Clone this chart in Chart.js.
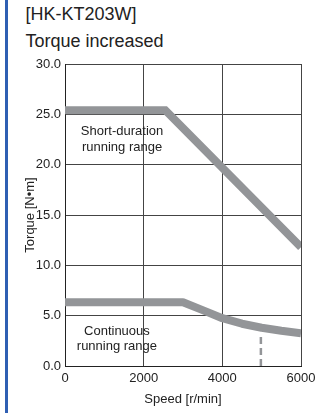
<!DOCTYPE html>
<html>
<head>
<meta charset="utf-8">
<script src="https://cdn.jsdelivr.net/npm/chart.js@4/dist/chart.umd.min.js"></script>
<style>
  html, body { margin: 0; padding: 0; background: #fff; }
  body { width: 336px; height: 415px; position: relative; overflow: hidden; font-family: "Liberation Sans", Arial, sans-serif; }
  .bar { position: absolute; left: 5px; top: 0; width: 2.5px; height: 413px; background: #2f5fb3; }
  .title { position: absolute; left: 25.5px; top: 1px; font-size: 18px; line-height: 27px; color: #222; }
  #chart { position: absolute; left: 0; top: 0; }
</style>
</head>
<body>
<div class="bar"></div>
<div class="title">[HK-KT203W]<br>Torque increased</div>
<canvas id="chart" width="336" height="415"></canvas>
<script>
// speed [r/min] vs torque [N·m]
const shortSpeed = [0, 2550, 6000];
const shortTorque = [25.4, 25.4, 11.8];

const contSpeed = [0, 3000, 3500, 4000, 4500, 5000, 5500, 6000];
const contTorque = [6.33, 6.33, 5.55, 4.75, 4.2, 3.8, 3.5, 3.25];

// dashed marker line
const markSpeed = [4980, 4980];
const markTorque = [0, 2.95];

const xTicks = [0, 2000, 4000, 6000];
const yTicks = [0, 5, 10, 15, 20, 25, 30];

// region labels: text lines, speed, torque of each line
const regionLabels = [
  { lines: ['Short-duration', 'running range'], x: 1450, y: [23.3, 21.75] },
  { lines: ['Continuous', 'running range'], x: 1320, y: [3.48, 1.9] }
];

const FONT = '"Liberation Sans", Arial, sans-serif';
const CURVE = '#939598';

function pts(xs, ys) {
  return xs.map((x, i) => ({ x, y: ys[i] }));
}

const labelPlugin = {
  id: 'regionLabels',
  afterDatasetsDraw(chart) {
    const ctx = chart.ctx;
    const xs = chart.scales.x, ys = chart.scales.y;
    ctx.save();
    ctx.font = '13px ' + FONT;
    ctx.fillStyle = '#222';
    ctx.textAlign = 'center';
    ctx.textBaseline = 'middle';
    regionLabels.forEach(l => {
      l.lines.forEach((t, i) => {
        ctx.fillText(t, xs.getPixelForValue(l.x), ys.getPixelForValue(l.y[i]));
      });
    });
    ctx.restore();
  }
};

new Chart(document.getElementById('chart'), {
  type: 'line',
  data: {
    datasets: [
      { data: pts(shortSpeed, shortTorque), borderColor: CURVE, borderWidth: 8, pointRadius: 0, borderJoinStyle: 'miter', borderCapStyle: 'butt', tension: 0 },
      { data: pts(contSpeed, contTorque), borderColor: CURVE, borderWidth: 8, pointRadius: 0, borderJoinStyle: 'round', borderCapStyle: 'butt', tension: 0 },
      { data: pts(markSpeed, markTorque), borderColor: CURVE, borderWidth: 2.5, pointRadius: 0, borderDash: [7, 4], borderCapStyle: 'butt' }
    ]
  },
  options: {
    responsive: false,
    animation: false,
    devicePixelRatio: 1,
    layout: { padding: { top: 64, right: 35, left: 0, bottom: 0 } },
    plugins: { legend: { display: false }, tooltip: { enabled: false } },
    scales: {
      x: {
        type: 'linear', min: 0, max: 6000,
        afterFit: s => { s.height = 49; },
        afterBuildTicks: s => { s.ticks = xTicks.map(v => ({ value: v })); },
        grid: { color: '#444', lineWidth: 1, drawTicks: false },
        border: { color: '#222', width: 1 },
        ticks: { padding: 5, maxRotation: 0, color: '#222', font: { family: FONT, size: 13 }, callback: v => String(v) },
        title: { display: true, text: 'Speed [r/min]', color: '#222', font: { family: FONT, size: 13 }, padding: { top: 0, bottom: 8 } }
      },
      y: {
        min: 0, max: 30,
        afterFit: s => { s.width = 65; },
        afterBuildTicks: s => { s.ticks = yTicks.map(v => ({ value: v })); },
        grid: { color: '#444', lineWidth: 1, drawTicks: false },
        border: { color: '#222', width: 1 },
        ticks: { padding: 4, color: '#222', font: { family: FONT, size: 13 }, callback: v => v.toFixed(1) },
        title: { display: true, text: 'Torque [N•m]', color: '#222', font: { family: FONT, size: 13 }, padding: { top: 23, bottom: 0 } }
      }
    }
  },
  plugins: [labelPlugin]
});
</script>
</body>
</html>
